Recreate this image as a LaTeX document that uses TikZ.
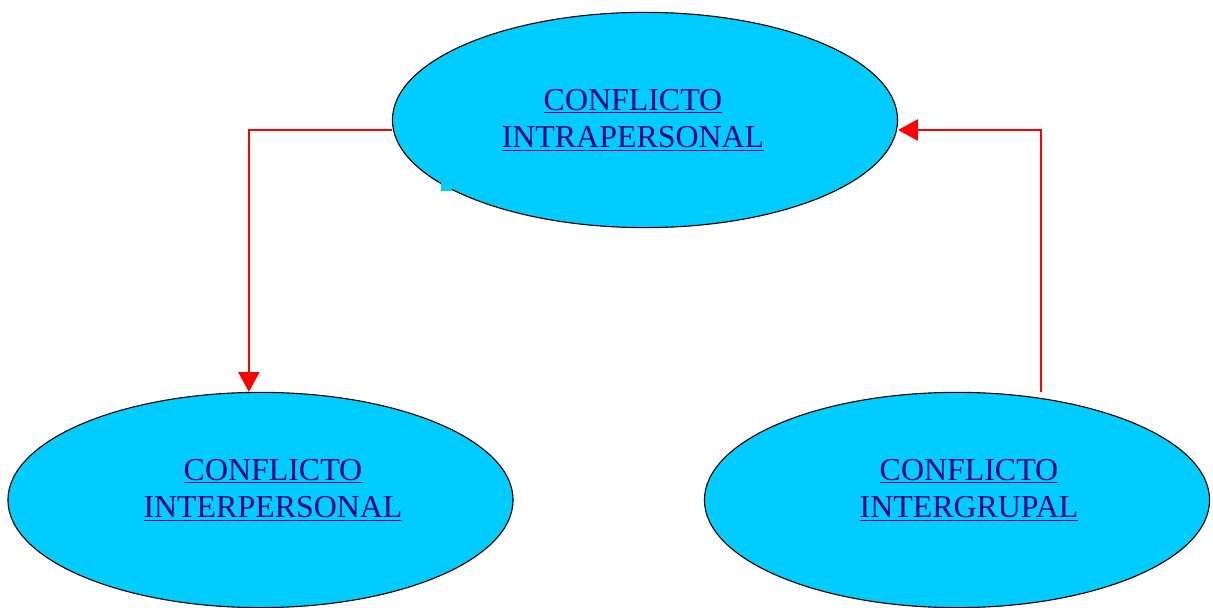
\documentclass[tikz,border=0pt]{standalone}
\usepackage{fontspec}
\setmainfont{Liberation Serif}
\usetikzlibrary{arrows.meta,shapes.geometric}
\definecolor{bubblecyan}{RGB}{0,204,255}
\definecolor{linktext}{RGB}{0,0,128}
\definecolor{arrowred}{RGB}{255,0,0}
\newcommand{\linkline}[1]{\underline{#1}}
\begin{document}
\begin{tikzpicture}[x=0.025cm,y=0.025cm,
  bubble/.style={ellipse, draw=black, thick, fill=bubblecyan, minimum width=12.625cm, minimum height=5.38cm, inner sep=0pt},
  caption/.style={align=center, text=linktext, font=\fontsize{22.7}{26.9}\selectfont},
  link/.style={draw=arrowred, line width=1.4pt, -{Triangle[length=14pt,width=15pt]}}]
\useasboundingbox (0,0) rectangle (1213,607);

\node[bubble] (intra) at (645,487) {};
\node[bubble] (inter) at (260.5,107) {};
\node[bubble] (grup) at (957,107) {};
\fill[bubblecyan] (441,416) rectangle (452,427);

\node[caption] (intralabel) at (633,487) {\linkline{CONFLICTO}\\\linkline{INTRAPERSONAL}};
\node[caption] (interlabel) at (273,117) {\linkline{CONFLICTO}\\\linkline{INTERPERSONAL}};
\node[caption] (gruplabel) at (969,117) {\linkline{CONFLICTO}\\\linkline{INTERGRUPAL}};

\draw[link] ([yshift=-0.25cm]intra.west) -| ([xshift=-0.29cm]inter.north);
\draw[link] ([xshift=2.1cm]grup.north) |- ([yshift=-0.25cm]intra.east);
\end{tikzpicture}
\end{document}
